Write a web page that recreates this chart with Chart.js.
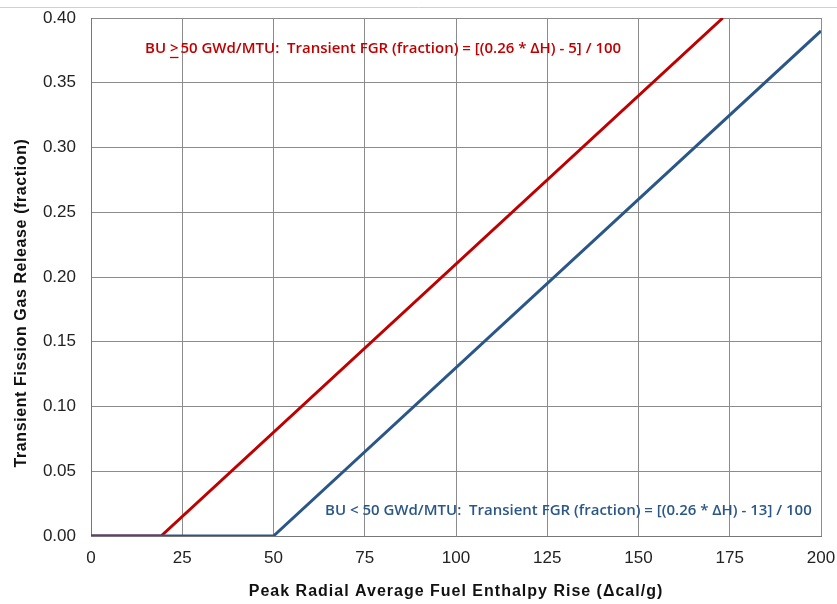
<!DOCTYPE html>
<html>
<head>
<meta charset="utf-8">
<script src="https://cdn.jsdelivr.net/npm/chart.js@4.4.1/dist/chart.umd.min.js"></script>
<style>
  html,body{margin:0;padding:0;background:#fff;}
  #wrap{width:837px;height:604px;position:relative;}
</style>
</head>
<body>
<div id="wrap"><canvas id="c" width="837" height="604"></canvas></div>
<script>
// values
const redX=[0,19.2,173.1];
const redY=[0,0,0.40];
const blueX=[0,50,200];
const blueY=[0,0,0.39];
const xTicks=[0,25,50,75,100,125,150,175,200];
const yTicks=[0,0.05,0.10,0.15,0.20,0.25,0.30,0.35,0.40];
const xTitle="Peak Radial Average Fuel Enthalpy Rise (\u0394cal/g)";
const yTitle="Transient Fission Gas Release (fraction)";

const RED="#C00000", BLUE="#2B5788", GRID="#8c8c8c";
const pts=(xs,ys)=>xs.map((x,i)=>({x,y:ys[i]}));

/* text labels, titles + top rule */
const notes={
  id:"notes",
  afterDraw(ch){
    const c=ch.ctx;
    c.save();
    c.strokeStyle="#d0d0d0"; c.lineWidth=1;
    c.beginPath(); c.moveTo(0,7.5); c.lineTo(837,7.5); c.stroke();

    // axis titles
    c.fillStyle="#111"; c.textAlign="center"; c.textBaseline="middle";
    c.font="bold 16px 'Liberation Sans', Arial";
    c.letterSpacing="1px";
    c.fillText(xTitle,456,592);
    c.letterSpacing="0.6px";
    c.save(); c.translate(22,303); c.rotate(-Math.PI/2); c.fillText(yTitle,0,0); c.restore();
    c.letterSpacing="0px";

    c.textAlign="left";
    c.font="600 15px 'Open Sans', sans-serif";
    // red formula
    let x=145, y=49;
    c.fillStyle=RED; c.strokeStyle=RED;
    const a="BU ", b=">", d=" 50 GWd/MTU:  Transient FGR (fraction) = [(0.26 * \u0394H) - 5] / 100";
    c.fillText(a,x,y); x+=c.measureText(a).width;
    const bw=c.measureText(b).width;
    c.fillText(b,x,y);
    c.lineWidth=1.3; c.beginPath(); c.moveTo(x,y+8.5); c.lineTo(x+bw,y+8.5); c.stroke();
    x+=bw; c.fillText(d,x-2,y);
    // blue formula
    c.fillStyle=BLUE;
    c.fillText("BU < 50 GWd/MTU:  Transient FGR (fraction) = [(0.26 * \u0394H) - 13] / 100",325,511);
    c.restore();
  }
};

new Chart(document.getElementById("c"),{
  type:"scatter",
  data:{datasets:[
    {label:"BU < 50",data:pts(blueX,blueY),showLine:true,borderColor:BLUE,borderWidth:3,pointRadius:0,fill:false},
    {label:"BU >= 50",data:pts(redX,redY),showLine:true,borderColor:RED,borderWidth:3,pointRadius:0,fill:false}
  ]},
  options:{
    responsive:false,animation:false,
    layout:{padding:{top:18,right:16,left:0,bottom:0}},
    plugins:{legend:{display:false},tooltip:{enabled:false}},
    scales:{
      x:{
        type:"linear",min:0,max:200,
        afterBuildTicks(s){s.ticks=xTicks.map(v=>({value:v}));},
        afterFit(s){s.height=68; s.paddingLeft=0; s.paddingRight=0;},
        grid:{color:GRID,drawTicks:false},
        border:{color:"#777"},
        ticks:{color:"#222",padding:12,font:{family:"'Liberation Sans', Arial",size:17}}
      },
      y:{
        min:0,max:0.40,
        afterBuildTicks(s){s.ticks=yTicks.map(v=>({value:v}));},
        afterFit(s){s.width=91; s.paddingTop=0; s.paddingBottom=0;},
        grid:{color:GRID,drawTicks:false},
        border:{color:"#777"},
        ticks:{color:"#222",padding:15,font:{family:"'Liberation Sans', Arial",size:17},callback:v=>v.toFixed(2)}
      }
    }
  },
  plugins:[notes]
});
</script>
</body>
</html>
